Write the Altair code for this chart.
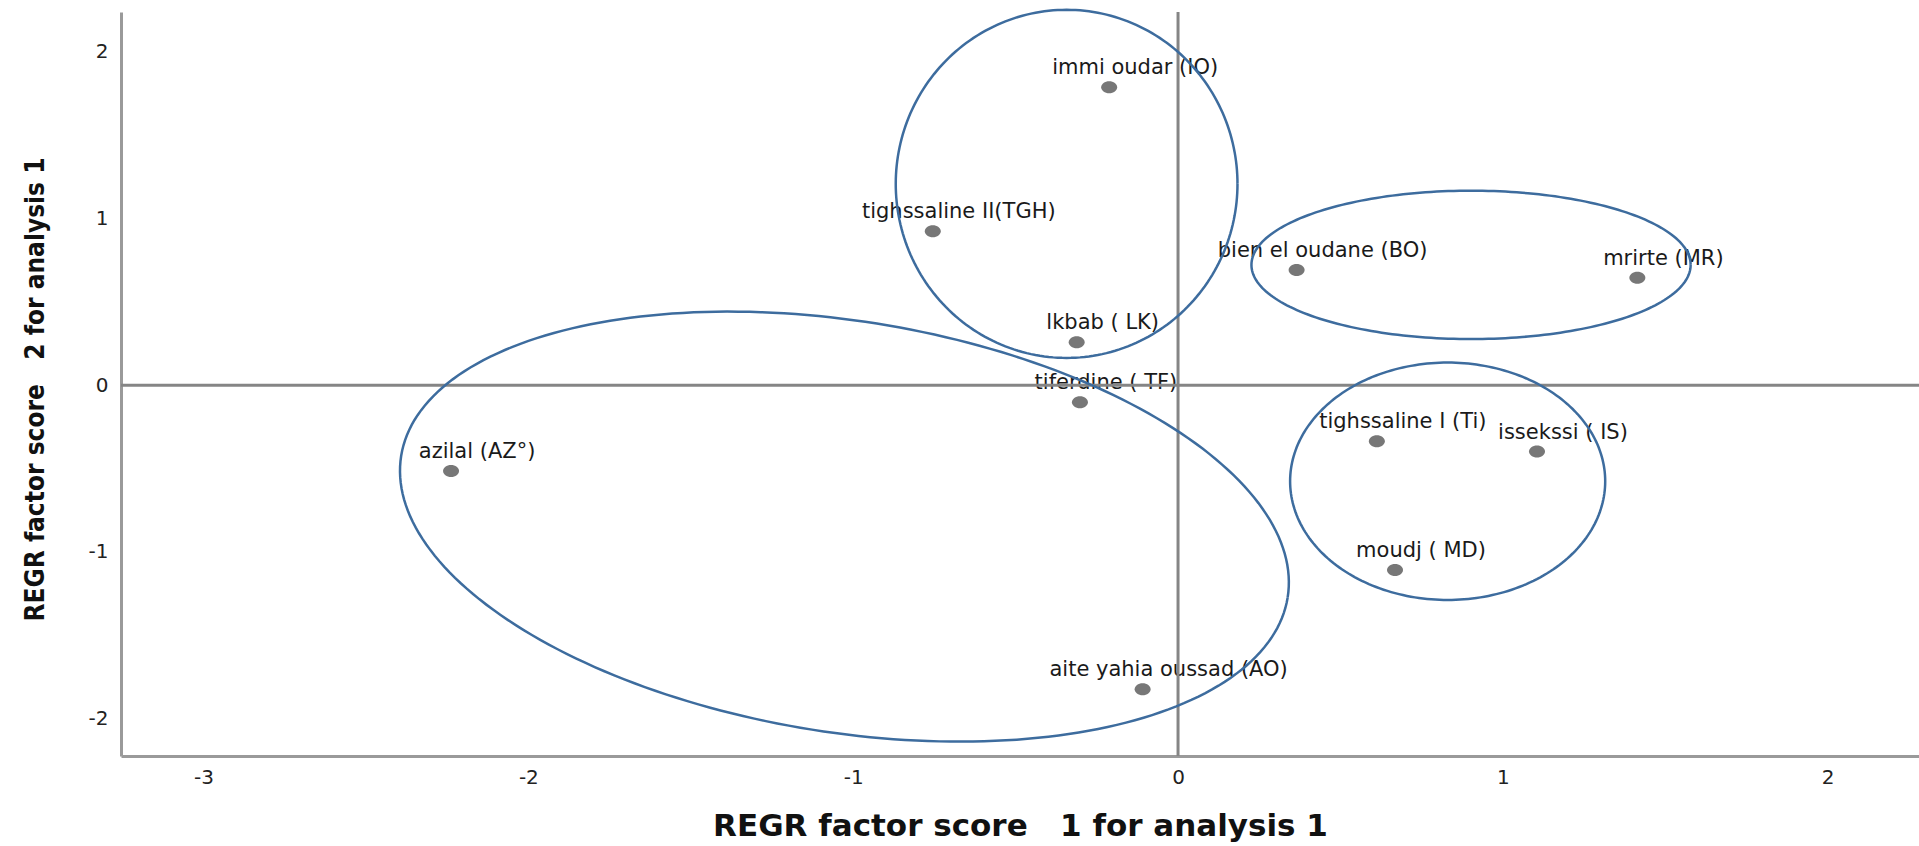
import altair as alt
import numpy as np
import pandas as pd

# Regression factor scores of the sampling sites (analysis 1)
sites = [
    "immi oudar (IO)",
    "tighssaline II(TGH)",
    "lkbab ( LK)",
    "tiferdine ( TF)",
    "azilal (AZ°)",
    "aite yahia oussad (AO)",
    "bien el oudane (BO)",
    "mrirte (MR)",
    "tighssaline I (Ti)",
    "issekssi ( IS)",
    "moudj ( MD)",
]
score1 = [-0.212, -0.755, -0.312, -0.302, -2.238, -0.109, 0.365, 1.414, 0.612, 1.105, 0.668]
score2 = [1.788, 0.924, 0.258, -0.102, -0.514, -1.824, 0.692, 0.645, -0.336, -0.398, -1.108]

# Cluster outlines: centre and two semi-diameter vectors, in score units
groups = ["G1", "G2", "G3", "G4"]
group_cx = [-0.343, 0.902, 0.830, -1.027]
group_cy = [1.208, 0.722, -0.576, -0.848]
group_u = [(0.526, 0.0), (0.676, 0.0), (0.485, 0.0), (1.3645, -0.4247)]
group_v = [(0.0, 1.044), (0.0, 0.445), (0.0, 0.712), (-0.0999, -1.2178)]

x_ticks = [-3, -2, -1, 0, 1, 2]
y_ticks = [-2, -1, 0, 1, 2]
x_domain = [-3.254, 2.281]
y_domain = [-2.224, 2.239]

points = pd.DataFrame({"site": sites, "s1": score1, "s2": score2})

rows = []
angles = np.linspace(0, 2 * np.pi, 241)
for g, cx, cy, u, v in zip(groups, group_cx, group_cy, group_u, group_v):
    for i, a in enumerate(angles):
        rows.append({
            "group": g,
            "t": i,
            "s1": cx + u[0] * np.cos(a) + v[0] * np.sin(a),
            "s2": cy + u[1] * np.cos(a) + v[1] * np.sin(a),
        })
outlines = pd.DataFrame(rows)

zero = pd.DataFrame({"s1": [0.0], "s2": [0.0]})

x_scale = alt.Scale(domain=x_domain, nice=False, zero=False)
y_scale = alt.Scale(domain=y_domain, nice=False, zero=False)

# plain hyphen-minus for negative tick labels
plain_label = "datum.value + ''"

x_axis = alt.Axis(
    values=x_ticks,
    labelExpr=plain_label,
    title="REGR factor score\u00a0\u00a0 1 for analysis 1",
    grid=False,
    ticks=False,
    tickSize=0,
    domainColor="#9a9a9a",
    domainWidth=3,
    labelFont="DejaVu Sans",
    labelFontSize=20,
    labelColor="#222222",
    labelPadding=21,
    labelBaseline="middle",
    labelFlush=False,
    titleFont="DejaVu Sans",
    titleFontWeight="bold",
    titleFontSize=31,
    titleColor="#111111",
    titleBaseline="alphabetic",
    titleY=79,
)
y_axis = alt.Axis(
    values=y_ticks,
    labelExpr=plain_label,
    title="REGR factor score\u00a0\u00a0 2 for analysis 1",
    grid=False,
    ticks=False,
    tickSize=0,
    domainColor="#9a9a9a",
    domainWidth=3,
    labelFont="DejaVu Sans",
    labelFontSize=20,
    labelColor="#222222",
    labelPadding=13,
    labelBaseline="middle",
    labelFlush=False,
    titleFont="DejaVu Sans Condensed, DejaVu Sans",
    titleFontWeight="bold",
    titleFontSize=26,
    titleColor="#111111",
    titleAngle=270,
    titleAlign="center",
    titleBaseline="alphabetic",
    titleX=-78,
    titleY=377,
)

X = alt.X("s1:Q", scale=x_scale, axis=x_axis)
Y = alt.Y("s2:Q", scale=y_scale, axis=y_axis)

dot_shape = "M -1,0 A 1,0.75 0 1,0 1,0 A 1,0.75 0 1,0 -1,0 Z"

dots = alt.Chart(points).mark_point(
    shape=dot_shape, filled=True, size=256, color="#777777", opacity=1
).encode(x=X, y=Y)

labels = alt.Chart(points).mark_text(
    dx=26, dy=-13, align="center", baseline="alphabetic",
    font="DejaVu Sans", fontSize=21, color="#1a1a1a",
).encode(x=X, y=Y, text="site:N")

vline = alt.Chart(zero).mark_rule(color="#858585", strokeWidth=3).encode(x=X)
hline = alt.Chart(zero).mark_rule(color="#858585", strokeWidth=3).encode(y=Y)

rings = alt.Chart(outlines).mark_line(color="#3d6c9e", strokeWidth=2.5).encode(
    x=X, y=Y, detail="group:N", order="t:Q"
)

chart = alt.layer(dots, labels, vline, hline, rings).properties(
    width=1798,
    height=744,
    padding={"left": 121, "top": 12, "right": 0, "bottom": 90},
    autosize="none",
    background="white",
).configure_view(strokeWidth=0)

chart.save("out.html", embed_options={"renderer": "svg", "actions": False})
